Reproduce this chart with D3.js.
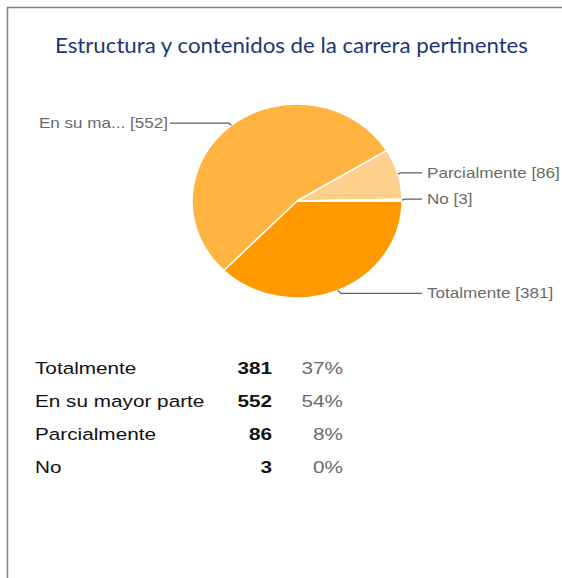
<!DOCTYPE html>
<html>
<head>
<meta charset="utf-8">
<script src="https://cdn.jsdelivr.net/npm/d3@7"></script>
<style>
  body { margin: 0; background: #fff; }
  svg { display: block; }
</style>
</head>
<body>
<div id="chart"></div>
<script>
// data
const categories = ["Totalmente", "En su mayor parte", "Parcialmente", "No"];
const pieLabels = ["Totalmente", "En su ma...", "Parcialmente", "No"];
const counts = [381, 552, 86, 3];
const percents = ["37%", "54%", "8%", "0%"];
const colors = ["#ff9900", "#ffb340", "#ffd08c", "#ffe2b0"];

const width = 562, height = 578;
const cx = 297, cy = 201, rx = 105, ry = 97;
// the original picture is stretched sideways a bit
const sx = 1.22;
const font = "'Liberation Sans', Arial, sans-serif";

const svg = d3.select("#chart")
    .append("svg")
    .attr("width", width)
    .attr("height", height);

// frame, only top and left edges show
svg.append("path")
    .attr("d", `M7.5,${height} L7.5,7.5 L${width},7.5`)
    .attr("fill", "none")
    .attr("stroke", "#7f7f7f")
    .attr("stroke-width", 1.5);

svg.append("text")
    .attr("x", 55)
    .attr("y", 53)
    .attr("textLength", 473)
    .attr("lengthAdjust", "spacingAndGlyphs")
    .attr("font-family", "Lato, 'Open Sans', sans-serif")
    .attr("font-size", "21px")
    .attr("fill", "#1c3677")
    .text("Estructura y contenidos de la carrera pertinentes");

const data = categories.map((c, i) => ({ cat: c, label: pieLabels[i], value: counts[i], pct: percents[i], color: colors[i] }));

let pie = d3.pie()
    .sort(null)
    .value((d) => d.value)
    .startAngle(Math.PI / 2)
    .endAngle(Math.PI / 2 + 2 * Math.PI);

let arc = d3.arc().innerRadius(0).outerRadius(rx);

const arcs = pie(data);

const g = svg.append("g")
    .attr("transform", `translate(${cx},${cy}) scale(1,${ry / rx})`);

g.selectAll("path")
    .data(arcs)
    .enter()
    .append("path")
    .attr("d", arc)
    .attr("fill", (d) => d.data.color)
    .attr("stroke", "#fff")
    .attr("stroke-width", 1.5)
    .attr("vector-effect", "non-scaling-stroke");

// places a text at (x,y) widened by sx
function wideText(parent, x, y) {
    return parent.append("text")
        .attr("transform", `translate(${x},${y}) scale(${sx},1)`)
        .attr("font-family", font);
}

// leader lines and labels
const leftX = 170, rightX = 422;
const yShift = [3, -2, -1, -1];

arcs.forEach((a, i) => {
    const mid = (a.startAngle + a.endAngle) / 2;
    const px = cx + rx * Math.sin(mid);
    const py = cy - ry * Math.cos(mid);
    const right = Math.sin(mid) >= 0;
    const ly = py + yShift[i];
    const ex = right ? px + 3 : px - 3;
    const tx = right ? rightX : leftX;

    svg.append("path")
        .attr("d", `M${px},${py} L${ex},${ly} L${tx},${ly}`)
        .attr("fill", "none")
        .attr("stroke", "#5e5e5e")
        .attr("stroke-width", 1.2);

    wideText(svg, right ? tx + 5 : tx - 2, ly + 5)
        .attr("text-anchor", right ? "start" : "end")
        .attr("font-size", "14px")
        .attr("fill", "#6a6a6a")
        .text(`${a.data.label} [${a.data.value}]`);
});

// summary table
const rowY = d3.scaleBand()
    .domain(categories)
    .range([351, 483]);

const rows = svg.selectAll(".row")
    .data(data)
    .enter()
    .append("g")
    .attr("class", "row")
    .attr("transform", (d) => `translate(0,${rowY(d.cat) + rowY.bandwidth() / 2 + 6})`);

rows.each(function(d) {
    const row = d3.select(this);
    wideText(row, 35, 0)
        .attr("font-size", "17px")
        .attr("fill", "#111")
        .text(d.cat);
    wideText(row, 272, 0)
        .attr("text-anchor", "end")
        .attr("font-size", "17px")
        .attr("font-weight", "bold")
        .attr("fill", "#111")
        .text(d.value);
    wideText(row, 343, 0)
        .attr("text-anchor", "end")
        .attr("font-size", "17px")
        .attr("fill", "#6a6a6a")
        .text(d.pct);
});
</script>
</body>
</html>
